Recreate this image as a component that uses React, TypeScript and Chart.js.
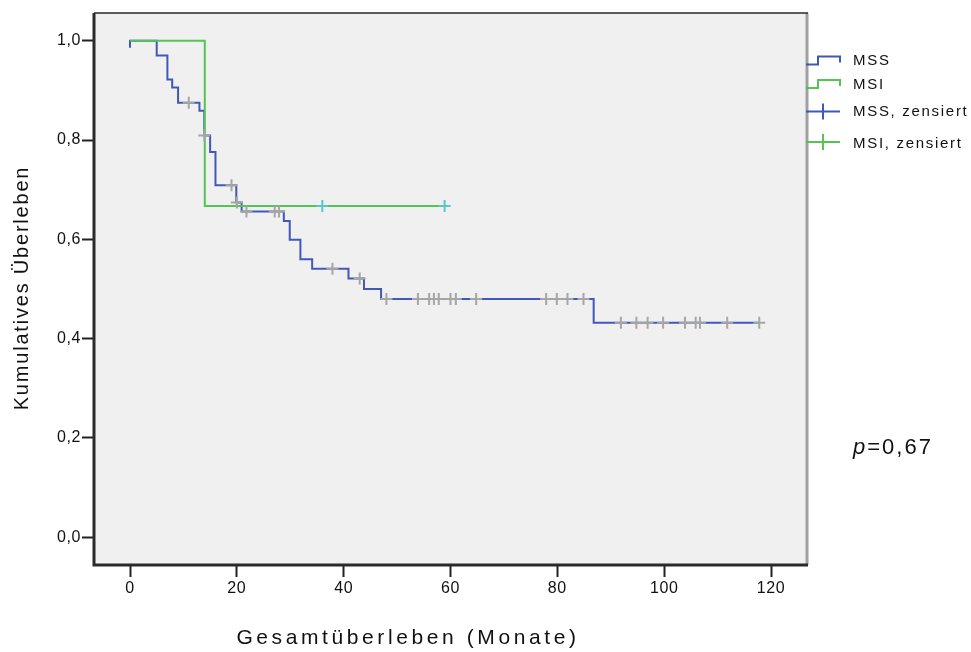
import React, { useEffect, useRef } from "react";
import { Chart, registerables } from "chart.js";
Chart.register(...registerables);

// ---- Data ----
const mssEventTimes = [0, 0, 5.0, 7.0, 7.9, 9.0, 13.0, 13.9, 15.0, 16.0, 19.9, 20.9, 28.8, 29.9, 31.9, 34.1, 40.9, 43.8, 47.0, 86.8, 117.8];
const mssSurvival = [0.986, 1.0, 0.97, 0.922, 0.906, 0.875, 0.859, 0.809, 0.776, 0.709, 0.674, 0.656, 0.637, 0.599, 0.56, 0.541, 0.521, 0.5, 0.48, 0.432, 0.432];
const mssCensoredTimes = [11.0, 13.9, 19.0, 20.0, 21.8, 27.1, 27.9, 37.9, 43.0, 48.0, 53.9, 56.0, 56.9, 57.8, 60.0, 61.0, 64.8, 77.9, 79.9, 81.9, 84.9, 91.9, 94.8, 96.9, 99.8, 103.9, 105.9, 106.7, 111.8, 117.8];

const msiEventTimes = [0, 14.0, 58.9];
const msiSurvival = [1.0, 0.667, 0.667];
const msiCensoredTimes = [36.0, 58.9];

const xTicks = [0, 20, 40, 60, 80, 100, 120];
const yTicks = [0, 0.2, 0.4, 0.6, 0.8, 1.0];

const legendLabels = ["MSS", "MSI", "MSS, zensiert", "MSI, zensiert"];
const pValueText = "=0,67";
const xTitle = "Gesamtüberleben (Monate)";
const yTitle = "Kumulatives Überleben";

// ---- Styles ----
const BLUE = "#4058bb";
const GREEN = "#55c455";
const GREY_CROSS = "#a6a6a6";
const TEAL_CROSS = "#5cc6c2";
const FONT = "'Liberation Sans', Arial, Helvetica, sans-serif";

function survivalAt(times: number[], surv: number[], t: number): number {
  let v = surv[0];
  for (let i = 0; i < times.length; i++) {
    if (times[i] <= t + 1e-9) v = surv[i];
  }
  return v;
}

const decorPlugin = {
  id: "decor",
  beforeDraw(chart: any) {
    const { ctx, chartArea: a } = chart;
    ctx.save();
    ctx.fillStyle = "#ffffff";
    ctx.fillRect(0, 0, chart.width, chart.height);
    ctx.fillStyle = "#f0f0f0";
    ctx.fillRect(a.left, a.top, a.right - a.left, a.bottom - a.top);
    ctx.restore();
    ctx.letterSpacing = "0.6px";
  },
  afterDraw(chart: any) {
    const { ctx, chartArea: a } = chart;
    ctx.save();
    // frame
    ctx.strokeStyle = "#a0a0a0";
    ctx.lineWidth = 3;
    ctx.beginPath();
    ctx.moveTo(a.right + 1, a.top);
    ctx.lineTo(a.right + 1, a.bottom);
    ctx.stroke();
    ctx.strokeStyle = "#2a2a2a";
    ctx.lineWidth = 1.5;
    ctx.beginPath();
    ctx.moveTo(a.left, a.top);
    ctx.lineTo(a.right + 2, a.top);
    ctx.stroke();
    ctx.lineWidth = 3;
    ctx.beginPath();
    ctx.moveTo(a.left, a.top);
    ctx.lineTo(a.left, a.bottom);
    ctx.lineTo(a.right + 2, a.bottom);
    ctx.stroke();

    // legend
    const lx = a.right;
    ctx.lineWidth = 2;
    const drawStep = (yLow: number, color: string) => {
      ctx.strokeStyle = color;
      ctx.beginPath();
      ctx.moveTo(lx, yLow);
      ctx.lineTo(lx + 12, yLow);
      ctx.lineTo(lx + 12, yLow - 8);
      ctx.lineTo(lx + 34, yLow - 8);
      ctx.lineTo(lx + 34, yLow - 2);
      ctx.stroke();
    };
    const drawCross = (y: number, color: string) => {
      ctx.strokeStyle = color;
      ctx.beginPath();
      ctx.moveTo(lx, y);
      ctx.lineTo(lx + 34, y);
      ctx.moveTo(lx + 17, y - 8);
      ctx.lineTo(lx + 17, y + 8);
      ctx.stroke();
    };
    drawStep(64.5, BLUE);
    drawStep(88, GREEN);
    drawCross(111.5, BLUE);
    drawCross(142, GREEN);

    ctx.fillStyle = "#111";
    ctx.font = `15px ${FONT}`;
    ctx.letterSpacing = "1.7px";
    ctx.textAlign = "left";
    ctx.textBaseline = "middle";
    const ly = [61, 84.5, 111.5, 144];
    legendLabels.forEach((t, i) => ctx.fillText(t, lx + 47, ly[i]));

    // p-value
    ctx.letterSpacing = "2px";
    ctx.font = `italic 22px ${FONT}`;
    ctx.fillText("p", 853, 448);
    const pw = ctx.measureText("p").width;
    ctx.font = `22px ${FONT}`;
    ctx.fillText(pValueText, 853 + pw, 448);

    // axis titles
    ctx.fillStyle = "#111";
    ctx.textAlign = "center";
    ctx.font = `21px ${FONT}`;
    ctx.letterSpacing = "3.6px";
    ctx.fillText(xTitle, 408, 638);

    ctx.save();
    ctx.translate(22, 288);
    ctx.rotate(-Math.PI / 2);
    ctx.font = `20px ${FONT}`;
    ctx.letterSpacing = "1.8px";
    ctx.fillText(yTitle, 0, 0);
    ctx.restore();

    ctx.restore();
  },
};

export default function App() {
  const ref = useRef<HTMLCanvasElement | null>(null);
  useEffect(() => {
    if (!ref.current) return;
    const mssLine = mssEventTimes.map((t, i) => ({ x: t, y: mssSurvival[i] }));
    const msiLine = msiEventTimes.map((t, i) => ({ x: t, y: msiSurvival[i] }));
    const mssCens = mssCensoredTimes.map((t) => ({ x: t, y: survivalAt(mssEventTimes, mssSurvival, t) }));
    const msiCens = msiCensoredTimes.map((t) => ({ x: t, y: survivalAt(msiEventTimes, msiSurvival, t) }));

    const chart = new Chart(ref.current, {
      type: "scatter",
      data: {
        datasets: [
          {
            label: "MSI, zensiert",
            data: msiCens,
            showLine: false,
            pointStyle: "cross",
            pointRadius: 6,
            pointBorderWidth: 2,
            pointBorderColor: TEAL_CROSS,
            pointBackgroundColor: TEAL_CROSS,
            order: 0,
          },
          {
            label: "MSS, zensiert",
            data: mssCens,
            showLine: false,
            pointStyle: "cross",
            pointRadius: 6,
            pointBorderWidth: 2,
            pointBorderColor: GREY_CROSS,
            pointBackgroundColor: GREY_CROSS,
            order: 1,
          },
          {
            label: "MSI",
            data: msiLine,
            showLine: true,
            stepped: "before",
            borderColor: GREEN,
            borderWidth: 2,
            pointRadius: 0,
            order: 2,
          },
          {
            label: "MSS",
            data: mssLine,
            showLine: true,
            stepped: "before",
            borderColor: BLUE,
            borderWidth: 2,
            pointRadius: 0,
            order: 3,
          },
        ],
      } as any,
      options: {
        responsive: false,
        animation: false,
        devicePixelRatio: 1,
        layout: { padding: { top: 13, right: 165, left: 0, bottom: 0 } },
        plugins: { legend: { display: false }, tooltip: { enabled: false } },
        events: [],
        scales: {
          x: {
            type: "linear",
            min: -6.74,
            max: 126.55,
            afterBuildTicks: (s: any) => {
              s.ticks = xTicks.map((v) => ({ value: v }));
            },
            afterFit: (s: any) => {
              s.height = 87;
            },
            ticks: {
              color: "#111",
              font: { family: FONT, size: 16 },
              padding: 2,
              maxRotation: 0,
              autoSkip: false,
              callback: (v: any) => String(v),
            },
            grid: {
              drawOnChartArea: false,
              drawTicks: true,
              tickLength: 12,
              tickWidth: 2,
              tickColor: "#222",
            },
            border: { display: false },
          },
          y: {
            type: "linear",
            min: -0.0558,
            max: 1.0558,
            afterBuildTicks: (s: any) => {
              s.ticks = yTicks.map((v) => ({ value: v }));
            },
            afterFit: (s: any) => {
              s.width = 94;
            },
            ticks: {
              color: "#111",
              font: { family: FONT, size: 16 },
              padding: 1,
              autoSkip: false,
              callback: (v: any) => Number(v).toFixed(1).replace(".", ","),
            },
            grid: {
              drawOnChartArea: false,
              drawTicks: true,
              tickLength: 12,
              tickWidth: 2,
              tickColor: "#222",
            },
            border: { display: false },
          },
        },
      } as any,
      plugins: [decorPlugin],
    });
    return () => chart.destroy();
  }, []);

  return (
    <div style={{ position: "fixed", left: 0, top: 0, width: 971, height: 652, background: "#fff" }}>
      <canvas ref={ref} width={971} height={652} style={{ display: "block", width: 971, height: 652 }} />
    </div>
  );
}
